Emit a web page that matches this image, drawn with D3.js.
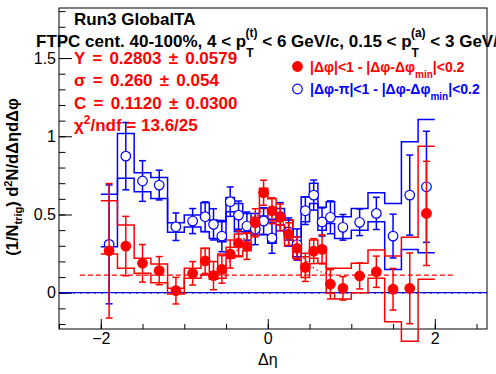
<!DOCTYPE html>
<html>
<head>
<meta charset="utf-8">
<script src="https://cdn.jsdelivr.net/npm/d3@7"></script>
<style>
  body { margin: 0; background: #fff; }
  text { font-family: "Liberation Sans", Arial, Helvetica, sans-serif; }
</style>
</head>
<body>
<div id="chart"></div>
<script>
// bins in delta eta (edges and centres)
const binEdges = [-2, -1.8, -1.6, -1.4, -1.2, -1.0, -0.8, -0.7, -0.6, -0.5, -0.4, -0.3, -0.2, -0.1, 0,
  0.1, 0.2, 0.3, 0.4, 0.5, 0.6, 0.7, 0.8, 1.0, 1.2, 1.4, 1.6, 1.8, 2.0];
const binCenters = [-1.9, -1.7, -1.5, -1.3, -1.1, -0.9, -0.75, -0.65, -0.55, -0.45, -0.35, -0.25, -0.15, -0.05,
  0.05, 0.15, 0.25, 0.35, 0.45, 0.55, 0.65, 0.75, 0.9, 1.1, 1.3, 1.5, 1.7, 1.9];

// near side |dphi|<1 (red, filled)
const redY = [0.268, 0.298, 0.188, 0.141, 0.013, 0.124, 0.203, 0.109, 0.149, 0.247, 0.316, 0.298, 0.447, 0.639,
  0.524, 0.482, 0.375, 0.284, 0.162, 0.266, 0.277, 0.054, 0.028, 0.107, 0.134, 0.022, 0.028, 0.507];
const redErr = [0.43, 0.19, 0.12, 0.09, 0.085, 0.075, 0.08, 0.09, 0.088, 0.09, 0.08, 0.085, 0.09, 0.08,
  0.083, 0.085, 0.072, 0.072, 0.09, 0.08, 0.093, 0.094, 0.075, 0.083, 0.1, 0.133, 0.226, 0.333];
const redSysHi = [0.588, 0.433, 0.22, 0.183, 0.028, 0.156, 0.284, 0.134, 0.247, 0.29, 0.375, 0.38, 0.482, 0.667,
  0.60, 0.507, 0.464, 0.326, 0.23, 0.337, 0.29, 0.156, 0.156, 0.188, 0.273, 0.234, 0.355, 0.937];
const redSysLo = [0.247, 0.156, 0.124, 0.064, -0.008, 0.092, 0.113, 0.086, 0.092, 0.22, 0.23, 0.268, 0.369, 0.539,
  0.46, 0.433, 0.298, 0.22, 0.098, 0.22, 0.188, -0.004, -0.04, 0.0, 0.092, -0.185, -0.31, 0.086];

// away side |dphi-pi|<1 (blue, open)
const blueY = [0.309, 0.873, 0.714, 0.688, 0.422, 0.458, 0.486, 0.437, 0.362, 0.582, 0.496, 0.426, 0.407, 0.458,
  0.35, 0.486, 0.388, 0.308, 0.524, 0.624, 0.452, 0.482, 0.418, 0.45, 0.507, 0.362, 0.624, 0.677];
const blueErr = [0.38, 0.215, 0.13, 0.095, 0.088, 0.08, 0.095, 0.1, 0.1, 0.094, 0.09, 0.09, 0.1, 0.085,
  0.098, 0.09, 0.09, 0.1, 0.088, 0.096, 0.09, 0.105, 0.082, 0.085, 0.103, 0.14, 0.256, 0.355];
const blueSysHi = [0.629, 1.018, 0.767, 0.737, 0.447, 0.496, 0.575, 0.464, 0.454, 0.609, 0.571, 0.507, 0.46, 0.49,
  0.469, 0.539, 0.464, 0.358, 0.613, 0.699, 0.546, 0.582, 0.486, 0.539, 0.639, 0.571, 0.965, 1.108];
const blueSysLo = [0.294, 0.731, 0.645, 0.603, 0.386, 0.42, 0.39, 0.347, 0.326, 0.518, 0.39, 0.39, 0.37, 0.37,
  0.316, 0.433, 0.337, 0.23, 0.454, 0.571, 0.40, 0.443, 0.347, 0.4, 0.454, 0.149, 0.277, 0.256];

// gaussian fit parameters (from the stats text)
const fitY = 0.2803, fitSigma = 0.260, fitC = 0.1120;

const xTicks = [-2, 0, 2];
const yTicks = [0, 0.5, 1, 1.5];

const margin = { top: 8, right: 9, bottom: 45, left: 59 };
const width = 496 - margin.left - margin.right;
const height = 374 - margin.top - margin.bottom;

const svg = d3.select("#chart").append("svg")
    .attr("width", 496).attr("height", 374);
const g = svg.append("g").attr("transform", `translate(${margin.left},${margin.top})`);

const x = d3.scaleLinear().domain([-2.5, 2.625]).range([0, width]);
const y = d3.scaleLinear().domain([-0.232, 1.82]).range([height, 0]);

// axes, ROOT style ticks inside the frame
g.append("g").attr("transform", `translate(0,${height})`)
  .call(d3.axisBottom(x).tickValues(d3.range(-2.5, 2.6, 0.5)).tickSize(-5).tickFormat(""))
  .call(a => a.select(".domain").remove());
g.append("g").attr("transform", `translate(0,${height})`)
  .call(d3.axisBottom(x).tickValues(xTicks).tickSize(-10).tickPadding(4).tickFormat(d3.format("")))
  .call(a => a.select(".domain").remove())
  .selectAll("text").attr("font-size", 16).attr("fill", "#000");

g.append("g")
  .call(d3.axisLeft(y).tickValues(d3.range(-0.2, 1.81, 0.1)).tickSize(-6.5).tickFormat(""))
  .call(a => a.select(".domain").remove());
g.append("g")
  .call(d3.axisLeft(y).tickValues(yTicks).tickSize(-13).tickPadding(3).tickFormat(d3.format("")))
  .call(a => a.select(".domain").remove())
  .selectAll("text").attr("font-size", 16).attr("fill", "#000");

g.selectAll(".tick line").attr("stroke", "#000");

g.append("rect").attr("width", width).attr("height", height)
  .attr("fill", "none").attr("stroke", "#000").attr("stroke-width", 1);

// axis titles
g.append("text")
  .attr("x", x(0)).attr("y", 357)
  .attr("text-anchor", "middle").attr("font-size", 16)
  .text("Δη");

const yt = svg.append("text")
  .attr("transform", "rotate(-90)")
  .attr("x", -177).attr("y", 18)
  .attr("text-anchor", "middle").attr("font-size", 16.5).attr("font-weight", "bold");
yt.append("tspan").text("(1/N");
yt.append("tspan").attr("dy", 4).attr("font-size", 11).text("trig");
yt.append("tspan").attr("dy", -4).text(") d");
yt.append("tspan").attr("dy", -6).attr("font-size", 11).text("2");
yt.append("tspan").attr("dy", 6).text("N/dΔηdΔφ");

// header text
svg.append("text").attr("x", 74).attr("y", 25)
  .attr("font-size", 17).attr("font-weight", "bold").text("Run3 GlobalTA");

const hdr = svg.append("text").attr("x", 36).attr("y", 47)
  .attr("font-size", 17).attr("font-weight", "bold");
hdr.append("tspan").text("FTPC cent. 40-100%, 4 < p");
hdr.append("tspan").attr("dy", 10).attr("font-size", 12).text("T");
hdr.append("tspan").attr("dx", -8).attr("dy", -20).attr("font-size", 12).text("(t)");
hdr.append("tspan").attr("dy", 10).text(" < 6 GeV/c, 0.15 < p");
hdr.append("tspan").attr("dy", 10).attr("font-size", 12).text("T");
hdr.append("tspan").attr("dx", -8).attr("dy", -20).attr("font-size", 12).text("(a)");
hdr.append("tspan").attr("dy", 10).text(" < 3 GeV/c");

// fit stats
const stats = ["Y = 0.2803 ± 0.0579", "σ = 0.260 ± 0.054", "C = 0.1120 ± 0.0300"];
stats.forEach((s, i) => {
  svg.append("text").attr("x", 74).attr("y", 64 + i * 22.4)
    .attr("font-size", 17).attr("font-weight", "bold").attr("fill", "#ff0000")
    .attr("word-spacing", 2.5).text(s);
});
const chi = svg.append("text").attr("x", 74).attr("y", 131)
  .attr("font-size", 17).attr("font-weight", "bold").attr("fill", "#ff0000");
chi.append("tspan").text("χ");
chi.append("tspan").attr("dy", -7).attr("font-size", 12).text("2");
chi.append("tspan").attr("dy", 7).text("/ndf = 13.6/25");

// legend
const legend = [
  { label: "|Δφ|<1 - |Δφ-Δφ", color: "#ff0000", filled: true },
  { label: "|Δφ-π|<1 - |Δφ-Δφ", color: "#0000ff", filled: false }
];
legend.forEach((l, i) => {
  const ly = 66.5 + i * 22.5;
  svg.append("circle").attr("cx", 297.5).attr("cy", ly).attr("r", 4.8)
    .attr("fill", l.filled ? l.color : "#fff").attr("stroke", l.color).attr("stroke-width", 1.2);
  const t = svg.append("text").attr("x", 310).attr("y", ly + 5)
    .attr("font-size", 14).attr("font-weight", "bold").attr("fill", l.color);
  t.append("tspan").text(l.label);
  t.append("tspan").attr("dy", 6).attr("font-size", 10).text("min");
  t.append("tspan").attr("dy", -6).text("|<0.2");
});

// zero line
g.append("line").attr("x1", 0).attr("x2", width).attr("y1", y(0)).attr("y2", y(0))
  .attr("stroke", "#0000ff").attr("stroke-width", 1.2);
g.append("line").attr("x1", 0).attr("x2", width).attr("y1", y(0)).attr("y2", y(0))
  .attr("stroke", "#000080").attr("stroke-width", 1.5).attr("stroke-dasharray", "2,5");

// step histograms (systematic envelopes)
const step = d3.line().x(d => x(d[0])).y(d => y(d[1])).curve(d3.curveStepAfter);
function stepData(vals) {
  const pts = vals.map((v, i) => [binEdges[i], v]);
  pts.push([binEdges[vals.length], vals[vals.length - 1]]);
  return pts;
}
[[blueSysHi, "#0000ff"], [blueSysLo, "#0000ff"], [redSysHi, "#ff0000"], [redSysLo, "#ff0000"]]
  .forEach(([vals, col]) => {
    g.append("path").datum(stepData(vals)).attr("d", step)
      .attr("fill", "none").attr("stroke", col).attr("stroke-width", 1.5);
  });

// constant and gaussian fit
g.append("line").attr("x1", x(-2.25)).attr("x2", x(2.25)).attr("y1", y(fitC)).attr("y2", y(fitC))
  .attr("stroke", "#ff0000").attr("stroke-width", 1.3).attr("stroke-dasharray", "5,3");
const fitX = d3.range(-0.8, 0.801, 0.02);
g.append("path")
  .datum(fitX)
  .attr("d", d3.line().x(d => x(d))
    .y(d => y(fitC + fitY / (fitSigma * Math.sqrt(2 * Math.PI)) * Math.exp(-0.5 * (d / fitSigma) ** 2))))
  .attr("fill", "none").attr("stroke", "#ff0000").attr("stroke-width", 1.3).attr("stroke-dasharray", "1.5,3");

// points with error bars
function drawSeries(vals, errs, col, filled) {
  const s = g.append("g");
  const data = binCenters.map((c, i) => ({ c: c, v: vals[i], e: errs[i] }));
  s.selectAll(".eb").data(data).join("line")
    .attr("x1", d => x(d.c)).attr("x2", d => x(d.c))
    .attr("y1", d => y(d.v + d.e)).attr("y2", d => y(d.v - d.e))
    .attr("stroke", col).attr("stroke-width", 1.5);
  ["top", "bot"].forEach(k => {
    s.selectAll(".cap" + k).data(data).join("line")
      .attr("x1", d => x(d.c) - 3.5).attr("x2", d => x(d.c) + 3.5)
      .attr("y1", d => y(k === "top" ? d.v + d.e : d.v - d.e))
      .attr("y2", d => y(k === "top" ? d.v + d.e : d.v - d.e))
      .attr("stroke", col).attr("stroke-width", 1.5);
  });
  s.selectAll("circle").data(data).join("circle")
    .attr("cx", d => x(d.c)).attr("cy", d => y(d.v))
    .attr("r", 4.8)
    .attr("fill", filled ? col : "#fff")
    .attr("stroke", col).attr("stroke-width", 1.2);
}
drawSeries(blueY, blueErr, "#0000ff", false);
drawSeries(redY, redErr, "#ff0000", true);
</script>
</body>
</html>
